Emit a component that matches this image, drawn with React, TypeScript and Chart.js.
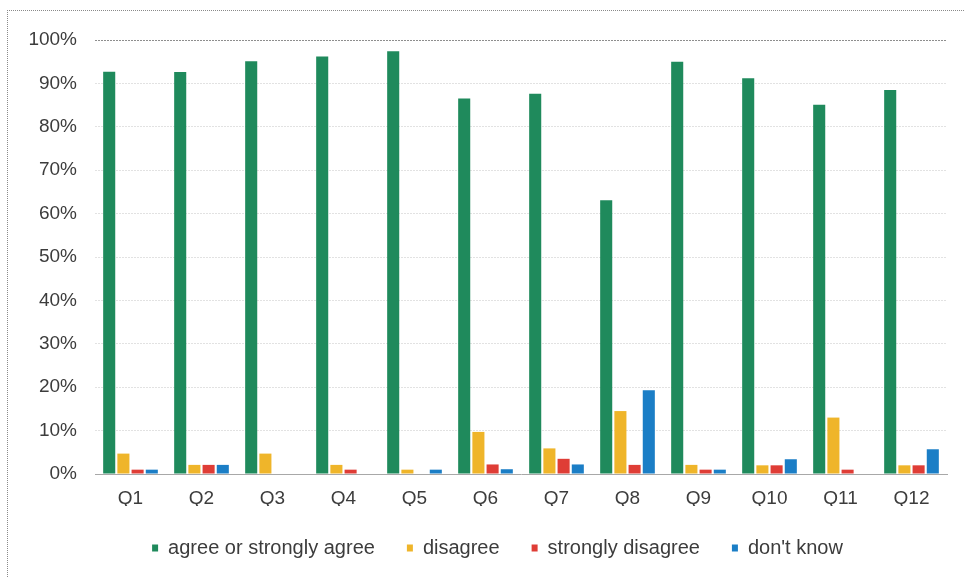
import React, { useEffect, useRef } from 'react';
import { Chart, registerables } from 'chart.js';

Chart.register(...registerables);

const questions = ['Q1', 'Q2', 'Q3', 'Q4', 'Q5', 'Q6', 'Q7', 'Q8', 'Q9', 'Q10', 'Q11', 'Q12'];
const agree = [92.7, 92.6, 95.1, 96.2, 97.4, 86.5, 87.6, 63.1, 95.0, 91.2, 85.1, 88.5];
const disagree = [4.7, 2.1, 4.7, 2.1, 1.0, 9.7, 5.9, 14.5, 2.1, 2.0, 13.0, 2.0];
const stronglyDisagree = [1.0, 2.1, 0, 1.0, 0, 2.2, 3.5, 2.1, 1.0, 2.0, 1.0, 2.0];
const dontKnow = [1.0, 2.1, 0, 0, 1.0, 1.1, 2.2, 19.3, 1.0, 3.4, 0, 5.7];
const yTicks = [0, 10, 20, 30, 40, 50, 60, 70, 80, 90, 100];

const textColor = '#3c3c3c';
const fontFamily = 'Liberation Sans, Arial, sans-serif';

// the legend in the original sits a bit right of the canvas centre
const legendShift = {
  id: 'legendShift',
  afterLayout(chart: any) {
    if (chart.legend) {
      chart.legend.left += 24;
      chart.legend.right += 24;
    }
  },
};

export default function App() {
  const canvasRef = useRef<HTMLCanvasElement>(null);

  useEffect(() => {
    if (!canvasRef.current) return;
    const bar = (label: string, data: number[], color: string) => ({
      label,
      data,
      backgroundColor: color,
      borderWidth: 0,
      categoryPercentage: 0.8,
      barPercentage: 0.85,
    });

    const chart = new Chart(canvasRef.current, {
      type: 'bar',
      data: {
        labels: questions,
        datasets: [
          bar('agree or strongly agree', agree, '#1f8a5c'),
          bar('disagree', disagree, '#efb52a'),
          bar('strongly disagree', stronglyDisagree, '#df3d36'),
          bar("don't know", dontKnow, '#1b7ec6'),
        ],
      },
      plugins: [legendShift],
      options: {
        responsive: false,
        animation: false,
        devicePixelRatio: 1,
        layout: { padding: { left: 0, right: 18, top: 40, bottom: 32 } },
        plugins: {
          tooltip: { enabled: false },
          legend: {
            position: 'bottom',
            labels: {
              boxWidth: 6,
              boxHeight: 7,
              padding: 32,
              color: textColor,
              font: { family: fontFamily, size: 20 },
            },
          },
        },
        scales: {
          x: {
            afterFit: (scale: any) => { scale.height = 32; },
            grid: { display: false, drawTicks: false },
            border: { color: '#a8a8a8', width: 1 },
            ticks: {
              padding: 13,
              color: textColor,
              font: { family: fontFamily, size: 19 },
            },
          },
          y: {
            min: 0,
            max: 100,
            afterFit: (scale: any) => { scale.width = 95; },
            afterBuildTicks: (scale: any) => { scale.ticks = yTicks.map(v => ({ value: v })); },
            border: { display: false, dash: [2, 1] },
            grid: {
              drawTicks: false,
              color: (ctx: any) => (ctx.tick && ctx.tick.value === 100 ? '#8e8e8e' : ctx.tick && ctx.tick.value === 0 ? 'rgba(0,0,0,0)' : '#e2e2e2'),
            },
            ticks: {
              padding: 18,
              color: textColor,
              font: { family: fontFamily, size: 19 },
              callback: (v: any) => v + '%',
            },
          },
        },
      },
    });

    return () => {
      chart.destroy();
    };
  }, []);

  return (
    <div style={{ position: 'fixed', left: 0, top: 0, width: 965, height: 577, overflow: 'hidden', background: '#fff' }}>
      <div
        style={{
          position: 'absolute',
          left: 7,
          top: 10,
          width: 1200,
          height: 800,
          borderLeft: '1px dotted #8a8a8a',
          borderTop: '1px dotted #8a8a8a',
        }}
      />
      <canvas
        ref={canvasRef}
        width={965}
        height={600}
        style={{ position: 'absolute', left: 0, top: 0, width: 965, height: 600 }}
      />
    </div>
  );
}
